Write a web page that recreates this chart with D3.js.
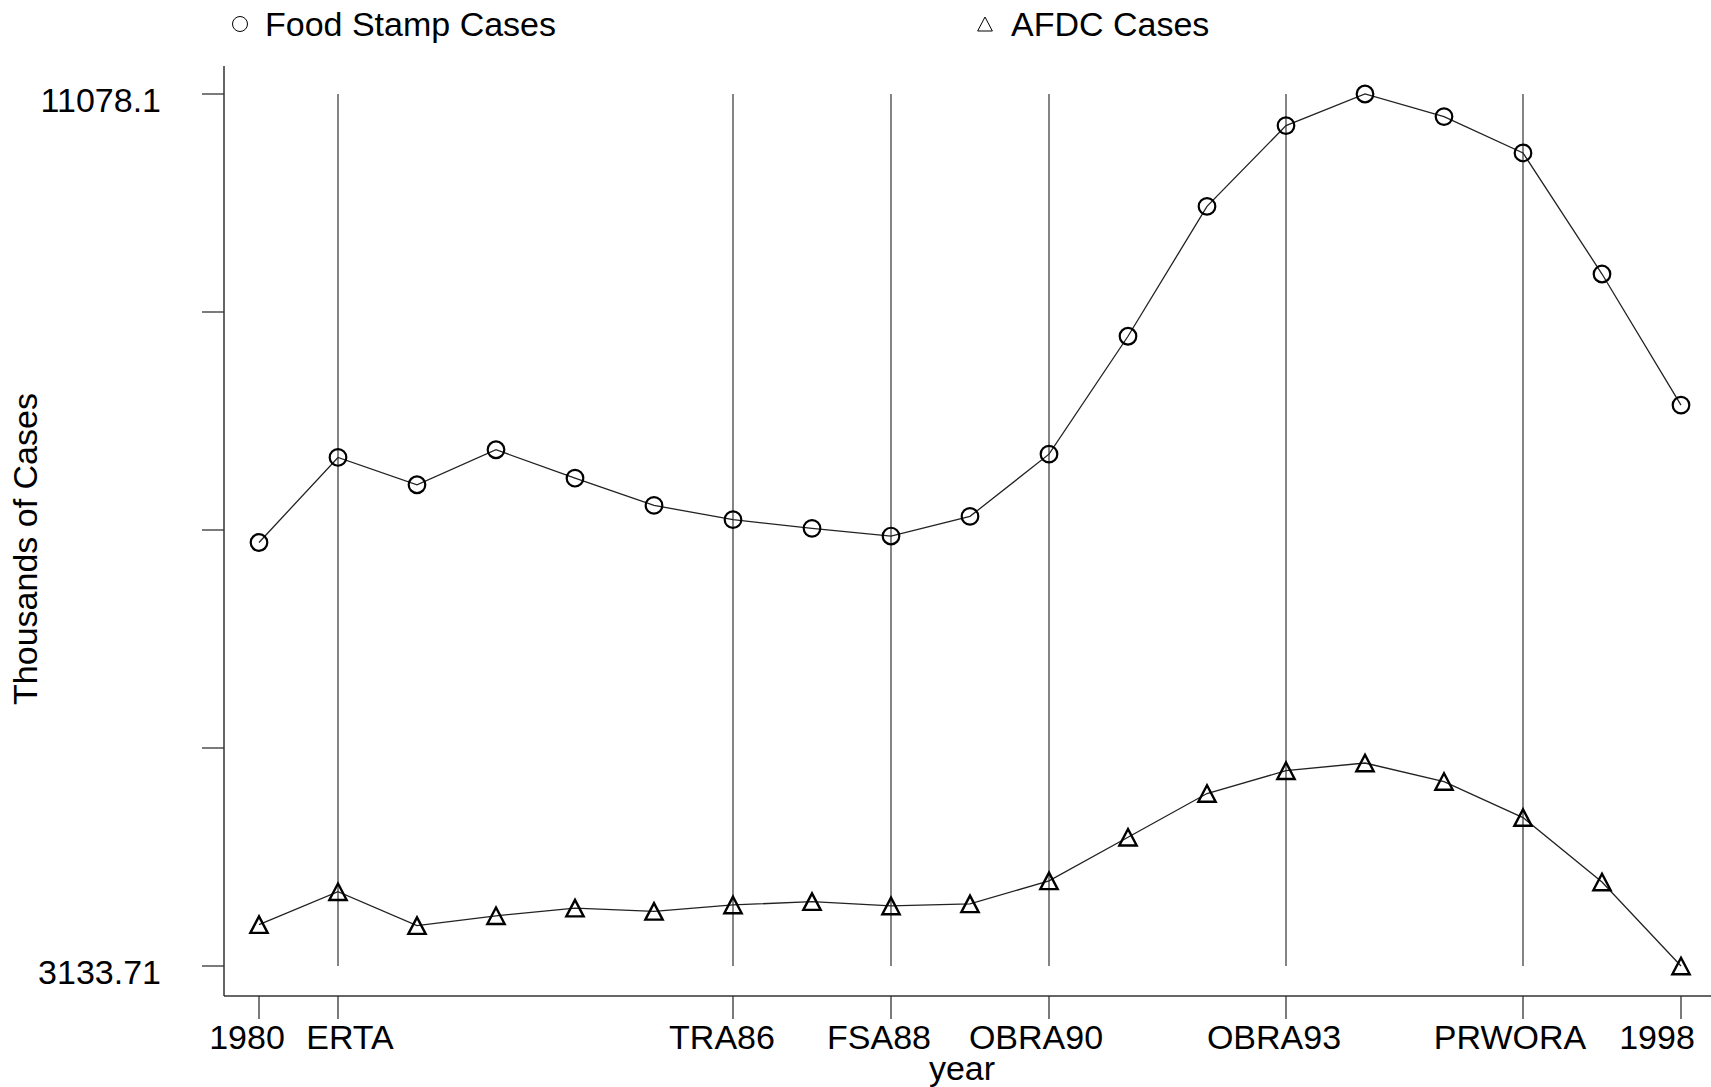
<!DOCTYPE html>
<html>
<head>
<meta charset="utf-8">
<script src="https://cdn.jsdelivr.net/npm/d3@7"></script>
<style>
  body { margin: 0; background: #fff; }
  svg { display: block; }
  text { font-family: "Liberation Sans", Helvetica, Arial, sans-serif; fill: #000; }
</style>
</head>
<body>
<svg id="chart" width="1711" height="1087"></svg>
<script>
// welfare caseloads, thousands
var years = [1980, 1981, 1982, 1983, 1984, 1985, 1986, 1987, 1988, 1989,
             1990, 1991, 1992, 1993, 1994, 1995, 1996, 1997, 1998];
var foodStamp = [6992, 7767, 7518, 7837, 7578, 7330, 7200, 7121, 7051, 7230,
                 7797, 8871, 10054, 10790, 11078.1, 10872, 10541, 9438, 8244];
var afdc = [3511, 3810, 3502, 3591, 3661, 3631, 3690, 3720, 3681, 3700,
            3909, 4307, 4705, 4913, 4983, 4814, 4486, 3899, 3133.71];
var yMin = 3133.71, yMax = 11078.1;
var yTickLabels = ['3133.71', '', '', '', '11078.1'];
// law changes marked on the x axis
var eventYears = [1981, 1986, 1988, 1990, 1993, 1996];
var xTickYears = [1980, 1981, 1986, 1988, 1990, 1993, 1996, 1998];
var xTickLabels = ['1980', 'ERTA', 'TRA86', 'FSA88', 'OBRA90', 'OBRA93', 'PRWORA', '1998'];
var seriesNames = ['Food Stamp Cases', 'AFDC Cases'];

var svg = d3.select('#chart');
var axisX = 224, axisY = 996;
// stata nudges the labels apart so they don't collide
var labelShift = [-12, 12, -11, -12, -13, -12, -13, -24];

var x = d3.scaleLinear().domain([1980, 1998]).range([259, 1681]);
var y = d3.scaleLinear().domain([yMin, yMax]).range([966, 94]);

var yTicks = d3.range(5).map(function (k) { return yMin + k * (yMax - yMin) / 4; });

// axes drawn by hand, stata style
svg.append('line')
    .attr('x1', axisX).attr('x2', axisX)
    .attr('y1', 66).attr('y2', axisY)
    .attr('stroke', '#333').attr('stroke-width', 1.5);
svg.append('line')
    .attr('x1', axisX).attr('x2', 1711)
    .attr('y1', axisY).attr('y2', axisY)
    .attr('stroke', '#333').attr('stroke-width', 1.5);

svg.append('g').selectAll('line')
    .data(yTicks).enter()
  .append('line')
    .attr('x1', axisX - 22).attr('x2', axisX)
    .attr('y1', function (d) { return y(d); })
    .attr('y2', function (d) { return y(d); })
    .attr('stroke', '#333').attr('stroke-width', 1.3);

svg.append('g').selectAll('text')
    .data(yTicks).enter()
  .append('text')
    .attr('x', 161)
    .attr('y', function (d) { return y(d) + 18; })
    .attr('text-anchor', 'end')
    .attr('font-size', 34)
    .text(function (d, i) { return yTickLabels[i]; });

svg.append('g').selectAll('line')
    .data(xTickYears).enter()
  .append('line')
    .attr('x1', function (d) { return x(d); })
    .attr('x2', function (d) { return x(d); })
    .attr('y1', axisY).attr('y2', axisY + 23)
    .attr('stroke', '#333').attr('stroke-width', 1.3);

svg.append('g').selectAll('text')
    .data(xTickYears).enter()
  .append('text')
    .attr('x', function (d, i) { return x(d) + labelShift[i]; })
    .attr('y', 1049)
    .attr('text-anchor', 'middle')
    .attr('font-size', 34)
    .text(function (d, i) { return xTickLabels[i]; });

svg.append('text')
    .attr('x', 962).attr('y', 1080)
    .attr('text-anchor', 'middle')
    .attr('font-size', 34)
    .text('year');

svg.append('text')
    .attr('transform', 'translate(37,549) rotate(-90)')
    .attr('text-anchor', 'middle')
    .attr('font-size', 34)
    .text('Thousands of Cases');

// vertical reference lines
svg.append('g').selectAll('line')
    .data(eventYears).enter()
  .append('line')
    .attr('x1', function (d) { return x(d); })
    .attr('x2', function (d) { return x(d); })
    .attr('y1', y(yMax)).attr('y2', y(yMin))
    .attr('stroke', '#333').attr('stroke-width', 1.2);

var line = d3.line()
    .x(function (d, i) { return x(years[i]); })
    .y(function (d) { return y(d); });

svg.append('path').datum(foodStamp)
    .attr('d', line).attr('fill', 'none')
    .attr('stroke', '#222').attr('stroke-width', 1.3);
svg.append('path').datum(afdc)
    .attr('d', line).attr('fill', 'none')
    .attr('stroke', '#222').attr('stroke-width', 1.3);

svg.append('g').selectAll('circle')
    .data(foodStamp).enter()
  .append('circle')
    .attr('cx', function (d, i) { return x(years[i]); })
    .attr('cy', function (d) { return y(d); })
    .attr('r', 8.3)
    .attr('fill', 'none')
    .attr('stroke', '#000').attr('stroke-width', 2.2);

var tri = function (cx, cy, h) {
    var w = h * 1.05;
    return 'M' + cx + ',' + (cy - h / 2) +
           'L' + (cx + w / 2) + ',' + (cy + h / 2) +
           'L' + (cx - w / 2) + ',' + (cy + h / 2) + 'Z';
};

svg.append('g').selectAll('path')
    .data(afdc).enter()
  .append('path')
    .attr('d', function (d, i) { return tri(x(years[i]), y(d), 16.5); })
    .attr('fill', 'none')
    .attr('stroke', '#000').attr('stroke-width', 2.4)
    .attr('stroke-linejoin', 'miter');

// legend
svg.append('circle')
    .attr('cx', 240).attr('cy', 24).attr('r', 7.5)
    .attr('fill', 'none').attr('stroke', '#000').attr('stroke-width', 1);
svg.append('text')
    .attr('x', 265).attr('y', 36)
    .attr('font-size', 34)
    .text(seriesNames[0]);

svg.append('path')
    .attr('d', tri(985, 24, 14))
    .attr('fill', 'none').attr('stroke', '#000').attr('stroke-width', 1);
svg.append('text')
    .attr('x', 1011).attr('y', 36)
    .attr('font-size', 34)
    .text(seriesNames[1]);
</script>
</body>
</html>
